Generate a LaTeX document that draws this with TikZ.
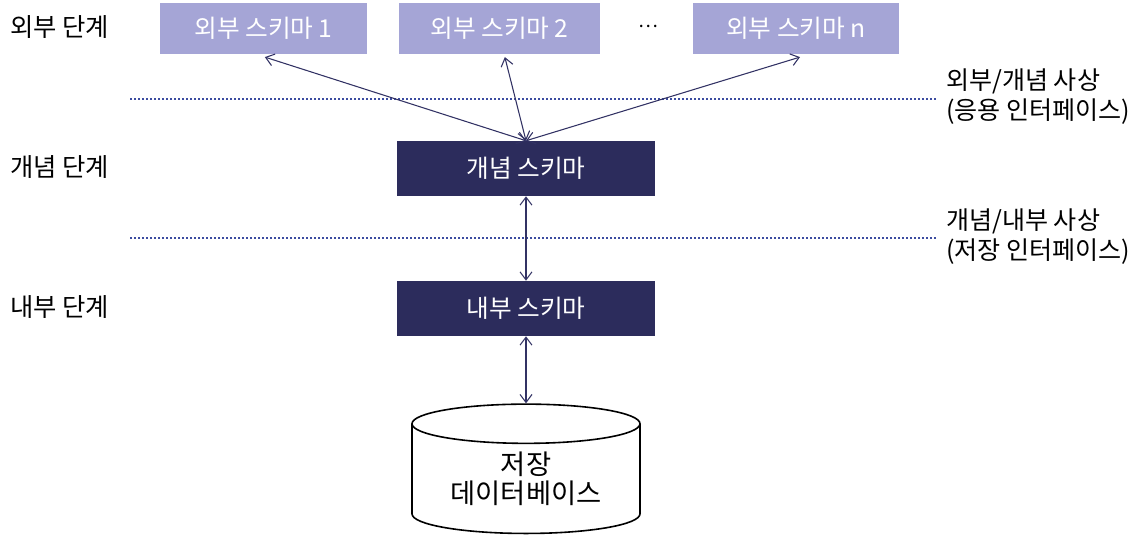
\documentclass[tikz,border=0pt]{standalone}
\usepackage{fontspec}
\setmainfont{Noto Sans CJK KR}
\usepackage{tikz}
\usetikzlibrary{shapes.geometric, positioning, arrows.meta}
\definecolor{extfill}{RGB}{165,165,214}
\definecolor{navy}{RGB}{44,44,92}
\definecolor{linkcol}{RGB}{50,50,100}
\definecolor{dotcol}{RGB}{60,76,160}

\begin{document}
\begin{tikzpicture}[
        x=0.75pt, y=-0.75pt,
        extschema/.style={rectangle, fill=extfill, text=white, minimum width=154pt, minimum height=38.5pt, inner sep=0pt, font=\fontsize{18.5}{20}\selectfont},
        schema/.style={rectangle, fill=navy, text=white, minimum width=193.5pt, minimum height=41.25pt, inner sep=0pt, font=\fontsize{18.5}{20}\selectfont},
        level/.style={anchor=west, inner sep=0pt, font=\fontsize{19}{20}\selectfont},
        mapping/.style={anchor=west, align=left, inner sep=0pt, font=\fontsize{18.8}{22.5}\selectfont},
        link/.style={{Straight Barb[length=6pt,width=9pt]}-{Straight Barb[length=6pt,width=9pt]}, draw=linkcol, line width=0.8pt},
        dotline/.style={draw=dotcol, line width=1.6pt, dash pattern=on 1.6pt off 1.4pt}
    ]
        \useasboundingbox (0,0) rectangle (1146,541);

        % External level
        \node[extschema, minimum width=155pt] (ext1) at (263.5,28.5) {외부 스키마 1};
        \node[extschema, minimum width=150.75pt] (ext2) at (499.5,28.5) {외부 스키마 2};
        \node[inner sep=0pt, font=\fontsize{14}{16}\selectfont] (dots) at (648,26) {…};
        \node[extschema, minimum width=155pt] (extn) at (796,28.5) {외부 스키마 n};

        % Conceptual and internal level
        \node[schema] (concept) at (526,168.5) {개념 스키마};
        \node[schema] (internal) at (526,308.5) {내부 스키마};

        % Stored database
        \node[cylinder, shape border rotate=90, draw=black, line width=1.2pt, aspect=0.26,
              minimum width=171pt, minimum height=97pt, align=center, inner sep=0pt,
              font=\fontsize{20.5}{21.5}\selectfont] (db) at (526,479) {저장\\데이터베이스};

        % Level labels
        \node[level] (extlevel) at (10,27) {외부 단계};
        \node[level] (conlevel) at (10,167) {개념 단계};
        \node[level] (intlevel) at (10,307) {내부 단계};

        % Mapping labels
        \node[mapping] (extmap) at (946,97) {외부/개념 사상\\(응용 인터페이스)};
        \node[mapping] (intmap) at (946,237) {개념/내부 사상\\(저장 인터페이스)};

        % Dotted borders
        \draw[dotline] (130,99) -- (936,99);
        \draw[dotline] (130,238) -- (936,238);

        % Mappings
        \draw[link] (concept.north) -- ([xshift=1pt,yshift=-2pt]ext1.south);
        \draw[link] (concept.north) -- ([xshift=4pt,yshift=-2pt]ext2.south);
        \draw[link] (concept.north) -- ([xshift=3pt,yshift=-2pt]extn.south);
        \draw[link] (concept.south) -- (internal.north);
        \draw[link] (internal.south) -- (db.top);
    \end{tikzpicture}
\end{document}
